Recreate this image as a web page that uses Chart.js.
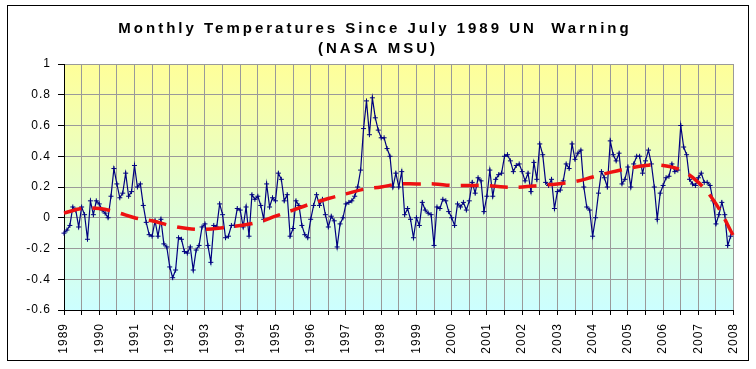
<!DOCTYPE html>
<html>
<head>
<meta charset="utf-8">
<script src="https://cdn.jsdelivr.net/npm/chart.js@4"></script>
<style>
	html, body { margin: 0; padding: 0; background: #fff; }
	canvas { display: block; }
</style>
</head>
<body>
<canvas id="chart1" width="756" height="369"></canvas>
<script>
const TITLE = ['Monthly Temperatures Since July 1989 UN  Warning', '(NASA MSU)'];

// one tick label per year, placed every 12 months (July)
const yearLabels = ['1989', '1990', '1991', '1992', '1993', '1994', '1995', '1996', '1997', '1998',
	'1999', '2000', '2001', '2002', '2003', '2004', '2005', '2006', '2007', '2008'];

// monthly anomalies, July 1989 onwards
const temps = [
	-0.10, -0.08, -0.05, 0.07, 0.05, -0.06, 0.07, 0.02, -0.14, 0.11,
	0.02, 0.11, 0.09, 0.05, 0.03, 0.00, 0.14, 0.32, 0.22, 0.13,
	0.16, 0.29, 0.14, 0.17, 0.34, 0.20, 0.22, 0.08, -0.03, -0.11,
	-0.12, -0.02, -0.12, -0.01, -0.17, -0.19, -0.32, -0.39, -0.34, -0.13,
	-0.14, -0.22, -0.23, -0.19, -0.34, -0.21, -0.18, -0.06, -0.04, -0.18,
	-0.29, -0.05, -0.06, 0.09, 0.02, -0.13, -0.12, -0.05, -0.05, 0.06,
	0.05, -0.06, 0.07, -0.12, 0.15, 0.12, 0.14, 0.08, -0.01, 0.22,
	0.07, 0.13, 0.11, 0.29, 0.25, 0.11, 0.15, -0.12, -0.07, 0.11,
	0.08, -0.05, -0.11, -0.13, -0.01, 0.08, 0.15, 0.08, 0.12, 0.02,
	-0.06, 0.01, -0.02, -0.19, -0.04, 0.00, 0.09, 0.10, 0.11, 0.14,
	0.20, 0.31, 0.58, 0.76, 0.54, 0.78, 0.65, 0.57, 0.52, 0.52,
	0.45, 0.40, 0.20, 0.29, 0.20, 0.30, 0.02, 0.06, -0.01, -0.13,
	0.00, -0.05, 0.10, 0.05, 0.03, 0.02, -0.18, 0.07, 0.06, 0.12,
	0.11, 0.04, 0.00, -0.05, 0.09, 0.07, 0.10, 0.05, 0.11, 0.23,
	0.16, 0.26, 0.24, 0.04, 0.14, 0.31, 0.14, 0.25, 0.28, 0.29,
	0.40, 0.41, 0.37, 0.30, 0.34, 0.35, 0.30, 0.24, 0.29, 0.17,
	0.36, 0.25, 0.48, 0.41, 0.23, 0.21, 0.25, 0.06, 0.17, 0.18,
	0.24, 0.35, 0.32, 0.48, 0.38, 0.42, 0.44, 0.20, 0.07, 0.05,
	-0.12, 0.00, 0.16, 0.30, 0.26, 0.20, 0.50, 0.41, 0.37, 0.42,
	0.22, 0.25, 0.33, 0.20, 0.35, 0.40, 0.40, 0.29, 0.37, 0.44,
	0.35, 0.20, -0.01, 0.16, 0.21, 0.26, 0.27, 0.35, 0.30, 0.31,
	0.60, 0.46, 0.41, 0.25, 0.22, 0.21, 0.26, 0.29, 0.23, 0.23,
	0.21, 0.11, -0.04, 0.02, 0.10, 0.02, -0.18, -0.12,
];

// red dashed trend, read every 6 months
const trend = [
	0.03, 0.06, 0.06, 0.035, 0.00, -0.02, -0.05, -0.07, -0.075, -0.065,
	-0.05, -0.03, 0.01, 0.05, 0.09, 0.125, 0.155, 0.185, 0.20, 0.22,
	0.22, 0.22, 0.21, 0.21, 0.21, 0.20, 0.20, 0.21, 0.22, 0.235,
	0.265, 0.295, 0.32, 0.34, 0.34, 0.31, 0.23, 0.09, -0.12,
];

const N_MONTHS = 229; // Jul 1989 .. Jul 2008
const labels = [];
for (let i = 0; i < N_MONTHS; i++) {
	const m = 6 + i;
	labels.push((1989 + Math.floor(m / 12)) + '-' + String(m % 12 + 1).padStart(2, '0'));
}
const trendData = labels.map((_, i) => (i % 6 === 0 ? trend[i / 6] : null));

const FONT = '"Liberation Sans", Arial, sans-serif';

const background = {
	id: 'background',
	beforeDraw(chart) {
		const { ctx, chartArea: a } = chart;
		ctx.save();
		ctx.fillStyle = '#fff';
		ctx.fillRect(0, 0, chart.width, chart.height);
		const g = ctx.createLinearGradient(0, a.top, 0, a.bottom);
		g.addColorStop(0, '#ffff99');
		g.addColorStop(1, '#ccffff');
		ctx.fillStyle = g;
		ctx.fillRect(a.left, a.top, a.right - a.left, a.bottom - a.top);
		ctx.restore();
		ctx.letterSpacing = '1px';
	},
	afterDraw(chart) {
		const ctx = chart.ctx;
		ctx.save();
		ctx.strokeStyle = '#000';
		ctx.lineWidth = 1;
		ctx.strokeRect(7.5, 5.5, 741, 355);
		// title
		ctx.fillStyle = '#000';
		ctx.font = 'bold 15px ' + FONT;
		ctx.letterSpacing = '3px';
		ctx.textAlign = 'center';
		ctx.textBaseline = 'alphabetic';
		ctx.fillText(TITLE[0], 375, 33);
		ctx.fillText(TITLE[1], 378, 53);
		ctx.restore();
	},
};

new Chart(document.getElementById('chart1'), {
	type: 'line',
	data: {
		labels: labels,
		datasets: [
			{
				label: 'Trend',
				data: trendData,
				spanGaps: true,
				borderColor: '#ee1111',
				borderWidth: 3.5,
				borderDash: [18, 11],
				tension: 0.4,
				pointRadius: 0,
			},
			{
				label: 'Monthly',
				data: temps,
				borderColor: '#000080',
				borderWidth: 1.2,
				pointStyle: 'cross',
				pointRadius: 2.5,
				pointBorderWidth: 1,
				pointBorderColor: '#000080',
				tension: 0,
			},
		],
	},
	options: {
		responsive: false,
		animation: false,
		events: [],
		layout: { padding: { top: 64, right: 21, bottom: 0, left: 0 } },
		plugins: {
			legend: { display: false },
			tooltip: { enabled: false },
			title: { display: false },
		},
		scales: {
			x: {
				offset: false,
				afterFit: (scale) => { scale.height = 59; },
				grid: {
					color: (c) => (c.index % 6 === 0 ? '#9a9a9a' : 'transparent'),
					tickColor: (c) => (c.index % 6 === 0 ? '#000' : 'transparent'),
					tickLength: 5,
				},
				border: { color: '#000' },
				ticks: {
					autoSkip: false,
					minRotation: 90,
					maxRotation: 90,
					padding: 8,
					color: '#000',
					font: { family: FONT, size: 12 },
					callback: (v, i) => (i % 12 === 0 ? yearLabels[i / 12] : ''),
				},
			},
			y: {
				min: -0.6,
				max: 1,
				afterFit: (scale) => { scale.width = 64; },
				grid: { color: '#9a9a9a', tickColor: '#000', tickLength: 6 },
				border: { color: '#000' },
				ticks: {
					stepSize: 0.2,
					padding: 7,
					color: '#000',
					font: { family: FONT, size: 12 },
					callback: (v) => String(Math.round(v * 10) / 10),
				},
			},
		},
	},
	plugins: [background],
});
</script>
</body>
</html>
